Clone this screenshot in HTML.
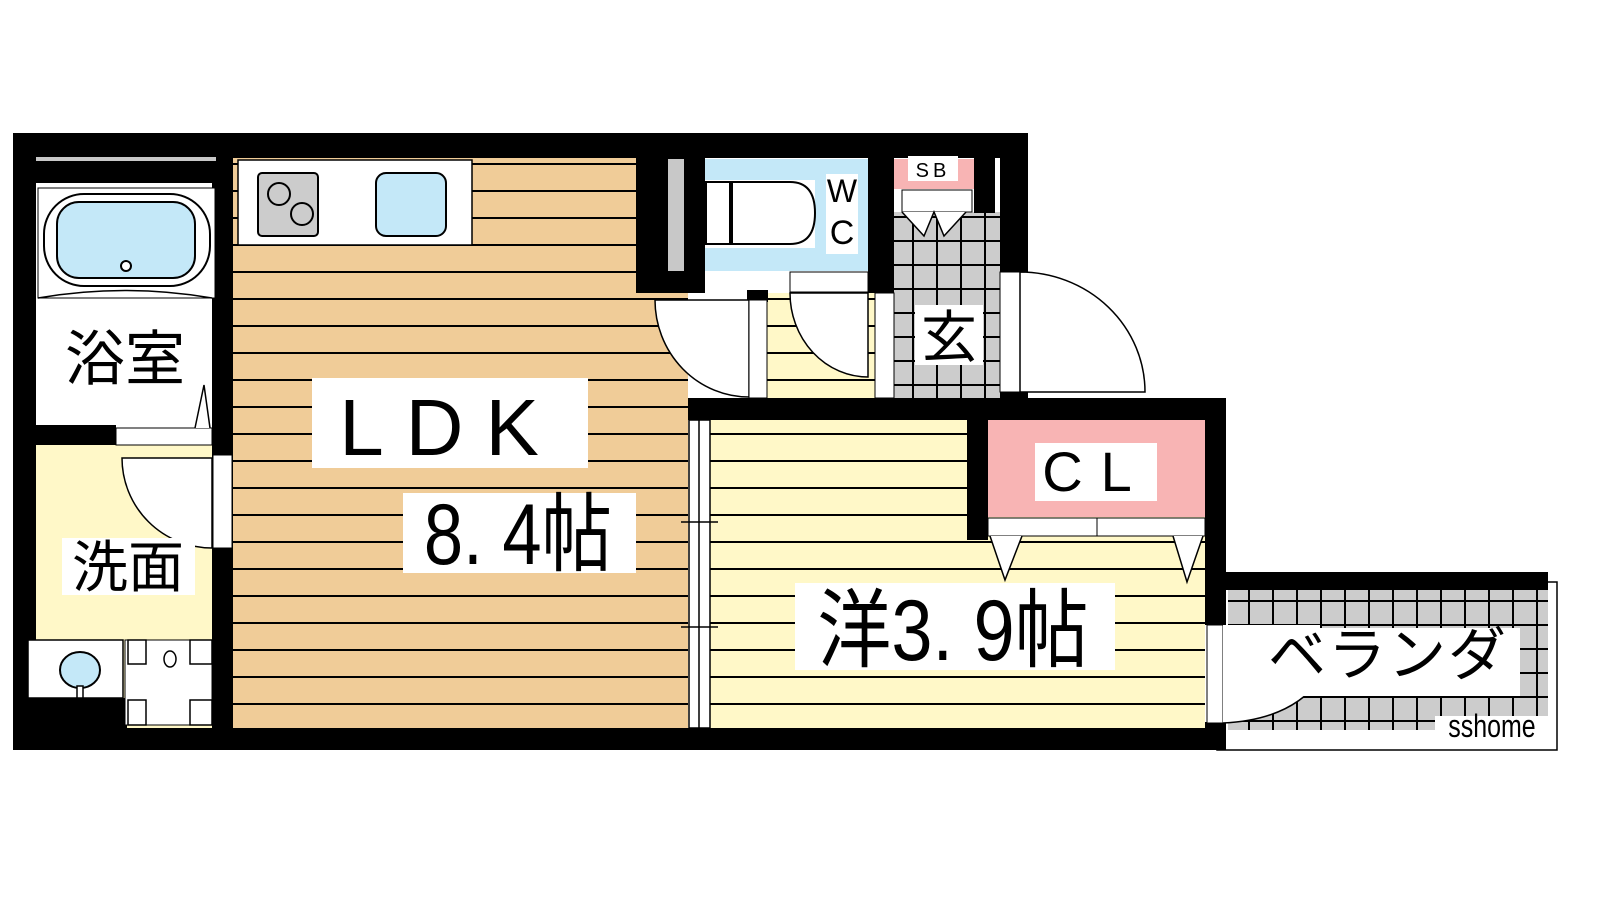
<!DOCTYPE html>
<html><head><meta charset="utf-8"><style>
html,body{margin:0;padding:0;background:#fff;}
svg{display:block;}
text{font-family:"Liberation Sans","Noto Sans CJK JP",sans-serif;fill:#000;}
</style></head><body>
<svg width="1600" height="900" viewBox="0 0 1600 900" xmlns="http://www.w3.org/2000/svg">
<defs>
<pattern id="wood" x="0" y="1" width="40" height="27" patternUnits="userSpaceOnUse">
<rect width="40" height="27" fill="#f0cc98"/><rect y="0" width="40" height="2" fill="#000"/></pattern>
<pattern id="yel" x="0" y="1" width="40" height="27" patternUnits="userSpaceOnUse">
<rect width="40" height="27" fill="#fff8c8"/><rect y="0" width="40" height="2" fill="#000"/></pattern>
<pattern id="tile" x="0" y="0" width="24" height="24" patternUnits="userSpaceOnUse">
<rect width="24" height="24" fill="#cccccc"/><rect width="2" height="24" fill="#000"/><rect width="24" height="2" fill="#000"/></pattern>
</defs>

<!-- floors -->
<rect x="233" y="155" width="455" height="573" fill="url(#wood)"/>
<rect x="710" y="420" width="495" height="308" fill="url(#yel)"/>
<rect x="765" y="293" width="110" height="105" fill="url(#yel)"/>
<rect x="894" y="212" width="106" height="188" fill="url(#tile)"/>
<rect x="1228" y="590" width="320" height="140" fill="url(#tile)"/>
<rect x="1217" y="582" width="340" height="168" fill="none" stroke="#000" stroke-width="1.5"/>
<rect x="27" y="445" width="185" height="283" fill="#fff8c8"/>

<!-- walls -->
<rect x="13" y="133" width="1015" height="25" fill="#000"/>
<rect x="13" y="133" width="23" height="617" fill="#000"/>
<rect x="13" y="728" width="1213" height="22" fill="#000"/>
<rect x="212" y="155" width="21" height="573" fill="#000"/>
<rect x="36" y="158" width="176" height="25" fill="#000"/>
<rect x="36" y="157" width="180" height="4" fill="#c8c8c8"/>
<rect x="36" y="425" width="80" height="20" fill="#000"/>
<rect x="636" y="155" width="69" height="138" fill="#000"/>
<rect x="668" y="159" width="16" height="112" fill="#c8c8c8"/>
<rect x="868" y="155" width="26" height="138" fill="#000"/>
<rect x="974" y="155" width="21" height="58" fill="#000"/>
<rect x="1000" y="133" width="28" height="140" fill="#000"/>
<rect x="1000" y="383" width="28" height="37" fill="#000"/>
<rect x="688" y="398" width="538" height="22" fill="#000"/>
<rect x="1205" y="398" width="21" height="227" fill="#000"/>
<rect x="1205" y="722" width="21" height="28" fill="#000"/>
<rect x="1226" y="572" width="322" height="18" fill="#000"/>
<rect x="747" y="290" width="21" height="12" fill="#000"/>
<rect x="967" y="420" width="21" height="120" fill="#000"/>

<!-- bathroom -->
<rect x="36" y="183" width="176" height="242" fill="#fff"/>
<rect x="38" y="188" width="177" height="110" fill="#fff" stroke="#000" stroke-width="1"/>
<rect x="44" y="194" width="166" height="92" rx="40" fill="#fff" stroke="#000" stroke-width="2"/>
<rect x="57" y="202" width="138" height="76" rx="22" fill="#c4e8f8" stroke="#000" stroke-width="2"/>
<circle cx="126" cy="266" r="5" fill="#fff" stroke="#000" stroke-width="2"/>
<path d="M38 298 Q125 283 212 298" fill="none" stroke="#000" stroke-width="1.5"/>
<rect x="116" y="428" width="96" height="17" fill="#fff" stroke="#000" stroke-width="1"/>
<path d="M195 428 L204 385 L210 428" fill="#fff" stroke="#000" stroke-width="1.5"/>
<!-- washroom door -->
<rect x="213" y="455" width="19" height="93" fill="#fff" stroke="#000" stroke-width="1"/>
<path d="M122 458 L212 458 L212 548 A90 90 0 0 1 122 458 Z" fill="#fff" stroke="#000" stroke-width="1.5"/>
<!-- wash fixtures -->
<rect x="27" y="698" width="100" height="30" fill="#000"/>
<rect x="28" y="640" width="95" height="58" fill="#fff" stroke="#000" stroke-width="1.5"/>
<ellipse cx="80" cy="670" rx="20" ry="18" fill="#c4e8f8" stroke="#000" stroke-width="2"/>
<rect x="77" y="686" width="6" height="12" fill="#fff" stroke="#000" stroke-width="1.5"/>
<rect x="125" y="640" width="87" height="85" fill="#fff" stroke="#000" stroke-width="1"/>
<rect x="128" y="640" width="18" height="24" fill="#fff" stroke="#000" stroke-width="1.5"/>
<rect x="190" y="640" width="22" height="24" fill="#fff" stroke="#000" stroke-width="1.5"/>
<rect x="128" y="700" width="18" height="25" fill="#fff" stroke="#000" stroke-width="1.5"/>
<rect x="190" y="700" width="22" height="25" fill="#fff" stroke="#000" stroke-width="1.5"/>
<ellipse cx="170" cy="659" rx="6" ry="8" fill="#fff" stroke="#000" stroke-width="1.5"/>

<!-- kitchen -->
<rect x="238" y="160" width="234" height="85" fill="#fff" stroke="#000" stroke-width="1.5"/>
<rect x="258" y="173" width="60" height="63" rx="4" fill="#cccccc" stroke="#000" stroke-width="2"/>
<circle cx="279" cy="194" r="11" fill="none" stroke="#000" stroke-width="2"/>
<circle cx="302" cy="214" r="11" fill="none" stroke="#000" stroke-width="2"/>
<rect x="376" y="173" width="70" height="63" rx="10" fill="#c4e8f8" stroke="#000" stroke-width="2"/>

<!-- WC -->
<rect x="705" y="159" width="163" height="112" fill="#c4e8f8"/>
<rect x="705" y="180" width="110" height="68" fill="#fff"/>
<rect x="706" y="182" width="24" height="62" fill="#fff" stroke="#000" stroke-width="2"/>
<path d="M732 182 L790 182 Q815 182 815 213 Q815 244 790 244 L732 244 Z" fill="#fff" stroke="#000" stroke-width="2"/>
<rect x="826" y="174" width="32" height="80" fill="#fff"/>
<text x="842" y="202" font-size="32" text-anchor="middle">W</text>
<text x="842" y="244" font-size="34" text-anchor="middle">C</text>
<rect x="790" y="272" width="78" height="20" fill="#fff" stroke="#000" stroke-width="1"/>
<path d="M790 293 L868 293 L868 377 A78 84 0 0 1 790 293 Z" fill="#fff" stroke="#000" stroke-width="1.5"/>
<rect x="875" y="293" width="19" height="105" fill="#fff" stroke="#000" stroke-width="1"/>
<!-- LDK door -->
<path d="M655 300 L749 300 L749 397 A94 97 0 0 1 655 300 Z" fill="#fff" stroke="#000" stroke-width="1.5"/>
<rect x="749" y="300" width="18" height="98" fill="#fff" stroke="#000" stroke-width="1"/>

<!-- SB / genkan -->
<rect x="894" y="159" width="80" height="30" fill="#f8b4b4"/>
<rect x="908" y="156" width="50" height="25" fill="#fff"/>
<text x="933" y="177" font-size="20" text-anchor="middle" letter-spacing="4">SB</text>
<rect x="902" y="190" width="70" height="22" fill="#fff" stroke="#000" stroke-width="1"/>
<path d="M902 212 L924 236 L934 212 L944 236 L966 212" fill="#fff" stroke="#000" stroke-width="1.5"/>
<rect x="1000" y="272" width="20" height="120" fill="#fff" stroke="#000" stroke-width="1"/>
<path d="M1020 272 A125 120 0 0 1 1145 392 L1020 392 Z" fill="#fff" stroke="#000" stroke-width="1.5"/>
<rect x="915" y="305" width="68" height="60" fill="#fff"/>
<text x="949" y="357" font-size="56" text-anchor="middle">玄</text>

<!-- sliding door LDK/洋 -->
<rect x="689" y="420" width="21" height="308" fill="#fff" stroke="#000" stroke-width="1.5"/>
<line x1="699" y1="420" x2="699" y2="728" stroke="#000" stroke-width="1.5"/>
<line x1="681" y1="522" x2="718" y2="522" stroke="#000" stroke-width="1.5"/>
<line x1="681" y1="627" x2="718" y2="627" stroke="#000" stroke-width="1.5"/>

<!-- CL -->
<rect x="988" y="420" width="217" height="97" fill="#f8b4b4"/>
<rect x="1035" y="443" width="122" height="58" fill="#fff"/>
<text x="1096" y="491" font-size="56" text-anchor="middle" letter-spacing="18">CL</text>
<rect x="988" y="518" width="217" height="18" fill="#fff" stroke="#000" stroke-width="1"/>
<line x1="1097" y1="518" x2="1097" y2="536" stroke="#000" stroke-width="1"/>
<path d="M990 536 L1005 580 L1022 536" fill="#fff" stroke="#000" stroke-width="1.5"/>
<path d="M1173 536 L1187 582 L1203 536" fill="#fff" stroke="#000" stroke-width="1.5"/>

<!-- balcony door -->
<rect x="1207" y="625" width="16" height="98" fill="#fff" stroke="#000" stroke-width="1"/>
<path d="M1223 723 L1223 625 L1320 625 L1320 680 Q1290 720 1223 723 Z" fill="#fff"/>
<path d="M1223 723 Q1290 720 1320 680" fill="none" stroke="#000" stroke-width="1.5"/>

<!-- labels -->
<rect x="58" y="322" width="134" height="66" fill="#fff"/>
<text x="125" y="380" font-size="60" text-anchor="middle">浴室</text>
<rect x="62" y="538" width="133" height="57" fill="#fff"/>
<text x="128" y="587" font-size="56" text-anchor="middle">洗面</text>
<rect x="312" y="378" width="276" height="90" fill="#fff"/>
<text x="450" y="455" font-size="80" text-anchor="middle" letter-spacing="22">LDK</text>
<rect x="403" y="493" width="233" height="80" fill="#fff"/>
<text x="518" y="564" font-size="86" text-anchor="middle" transform="translate(518 0) scale(0.82 1) translate(-518 0)">8. 4帖</text>
<rect x="795" y="583" width="320" height="87" fill="#fff"/>
<text x="953" y="660" font-size="86" text-anchor="middle" transform="translate(953 0) scale(0.86 1) translate(-953 0)">洋3. 9帖</text>
<rect x="1240" y="628" width="280" height="68" fill="#fff"/>
<text x="1388" y="675" font-size="58" text-anchor="middle" letter-spacing="2">ベランダ</text>
<rect x="1435" y="716" width="115" height="30" fill="#fff"/>
<text x="1492" y="737" font-size="32" text-anchor="middle" transform="translate(1492 0) scale(0.78 1) translate(-1492 0)">sshome</text>
</svg>
</body></html>
